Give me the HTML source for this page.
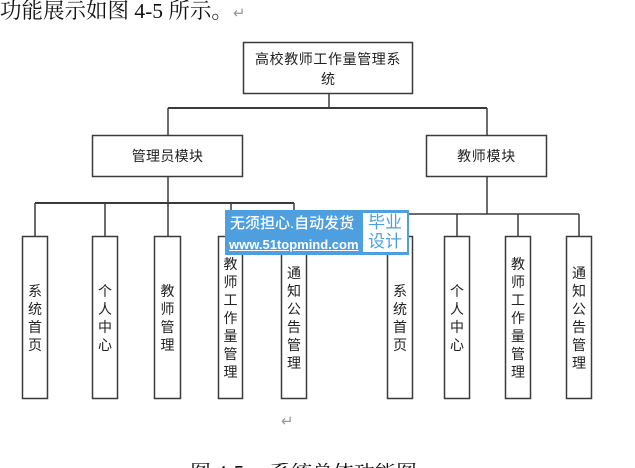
<!DOCTYPE html>
<html>
<head>
<meta charset="utf-8">
<style>
  html,body{margin:0;padding:0;background:#fff;overflow:hidden;width:635px;height:468px;}
  #wrap{width:635px;height:468px;position:relative;overflow:hidden;}
  .abs{position:absolute;}
  .serif{font-family:"Liberation Serif","Noto Serif CJK SC",serif;color:#111;}
  .sans{font-family:"Liberation Sans","Noto Sans CJK SC",sans-serif;color:#222;}
  .lbl{font-size:14px;line-height:20px;text-align:center;white-space:nowrap;}
  .leaf{position:absolute;top:236px;height:163px;display:flex;align-items:center;justify-content:center;
        font-family:"Liberation Sans","Noto Sans CJK SC",sans-serif;font-size:14px;line-height:18px;color:#222;text-align:center;}
</style>
</head>
<body>
<div id="wrap">
<!-- top sentence -->
<div class="abs serif" style="left:0;top:1px;font-size:21.5px;line-height:21px;white-space:nowrap;">功能展示如图 4-5 所示。<span style="color:#999;font-size:15px;">↵</span></div>

<svg class="abs" style="left:0;top:0" width="635" height="468" xmlns="http://www.w3.org/2000/svg">
  <g fill="none" stroke="#3a3a3a" stroke-width="1.5">
    <rect x="243.5" y="42.5" width="169" height="51"/>
    <line x1="329" y1="93" x2="329" y2="108"/>
    <line x1="168" y1="108" x2="487" y2="108" stroke-width="2"/>
    <line x1="168" y1="108" x2="168" y2="135"/>
    <line x1="487" y1="108" x2="487" y2="135"/>
    <rect x="92.5" y="135.5" width="150" height="41"/>
    <rect x="426.5" y="135.5" width="120" height="41"/>
    <line x1="168" y1="177" x2="168" y2="203"/>
    <line x1="35" y1="203" x2="294" y2="203" stroke-width="2"/>
    <line x1="35" y1="203" x2="35" y2="236"/>
    <line x1="105" y1="203" x2="105" y2="236"/>
    <line x1="168" y1="203" x2="168" y2="236"/>
    <line x1="231" y1="203" x2="231" y2="236"/>
    <line x1="294" y1="203" x2="294" y2="236"/>
    <line x1="487" y1="177" x2="487" y2="214"/>
    <line x1="400" y1="214" x2="579" y2="214"/>
    <line x1="400" y1="214" x2="400" y2="236"/>
    <line x1="457" y1="214" x2="457" y2="236"/>
    <line x1="518" y1="214" x2="518" y2="236"/>
    <line x1="579" y1="214" x2="579" y2="236"/>
    <rect x="22.5" y="236.5" width="25" height="162"/>
    <rect x="92.5" y="236.5" width="25" height="162"/>
    <rect x="154.5" y="236.5" width="26" height="162"/>
    <rect x="218.5" y="236.5" width="24" height="162"/>
    <rect x="281.5" y="236.5" width="25" height="162"/>
    <rect x="387.5" y="236.5" width="25" height="162"/>
    <rect x="444.5" y="236.5" width="25" height="162"/>
    <rect x="505.5" y="236.5" width="25" height="162"/>
    <rect x="566.5" y="236.5" width="25" height="162"/>
  </g>
</svg>

<div class="abs sans lbl" style="left:243px;top:49px;width:170px;letter-spacing:0.6px;">高校教师工作量管理系</div>
<div class="abs sans lbl" style="left:243px;top:69px;width:170px;">统</div>
<div class="abs sans lbl" style="left:92px;top:146px;width:151px;letter-spacing:0.3px;">管理员模块</div>
<div class="abs sans lbl" style="left:426px;top:146px;width:121px;letter-spacing:0.7px;">教师模块</div>

<div class="leaf" style="left:22px;width:26px;">系<br>统<br>首<br>页</div>
<div class="leaf" style="left:92px;width:26px;">个<br>人<br>中<br>心</div>
<div class="leaf" style="left:154px;width:27px;">教<br>师<br>管<br>理</div>
<div class="leaf" style="left:218px;width:25px;">教<br>师<br>工<br>作<br>量<br>管<br>理</div>
<div class="leaf" style="left:281px;width:26px;">通<br>知<br>公<br>告<br>管<br>理</div>
<div class="leaf" style="left:387px;width:26px;">系<br>统<br>首<br>页</div>
<div class="leaf" style="left:444px;width:26px;">个<br>人<br>中<br>心</div>
<div class="leaf" style="left:505px;width:26px;">教<br>师<br>工<br>作<br>量<br>管<br>理</div>
<div class="leaf" style="left:566px;width:26px;">通<br>知<br>公<br>告<br>管<br>理</div>

<!-- watermark -->
<div class="abs" style="left:225px;top:210px;width:184px;height:45px;background:#4d9fe0;">
  <div class="abs" style="left:5px;top:4px;font-family:'Liberation Sans','Noto Sans CJK SC',sans-serif;font-size:15px;line-height:20px;font-weight:500;color:#fff;white-space:nowrap;">无须担心.自动发货</div>
  <div class="abs" style="left:4px;top:27px;font-family:'Liberation Sans',sans-serif;font-size:13px;line-height:16px;font-weight:bold;color:#fff;text-decoration:underline;white-space:nowrap;">www.51topmind.com</div>
  <div class="abs" style="left:138px;top:3px;width:44px;height:39px;background:#fff;font-family:'Liberation Sans','Noto Sans CJK SC',sans-serif;font-size:17px;line-height:19px;color:#4d9fe0;text-align:center;">毕业<br>设计</div>
</div>

<div class="abs" style="left:281px;top:412px;font-size:15px;line-height:18px;color:#999;font-family:'DejaVu Sans',sans-serif;">↵</div>

<!-- caption (cut off at the bottom edge) -->
<div class="abs" style="left:0;top:463px;width:635px;height:5px;overflow:hidden;">
  <div class="abs serif" style="left:190px;top:0;font-size:21px;line-height:21px;white-space:nowrap;">图 4-5</div>
  <div class="abs serif" style="left:270px;top:0;font-size:21px;line-height:21px;white-space:nowrap;">系统总体功能图</div>
</div>
</div>
</body>
</html>
